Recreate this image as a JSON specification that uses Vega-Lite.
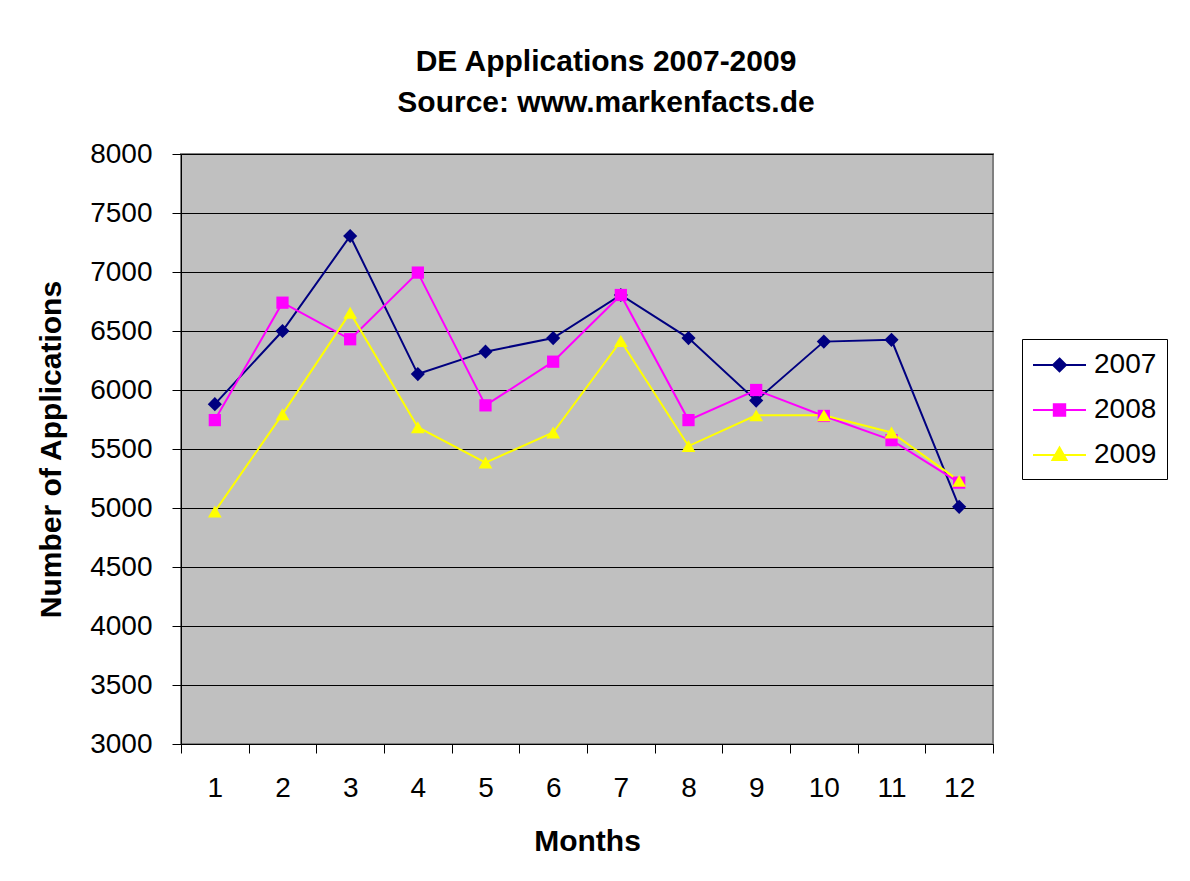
{
  "$schema": "https://vega.github.io/schema/vega-lite/v6.json",
  "autosize": "none",
  "padding": {"left": 181, "top": 154, "right": 197, "bottom": 137},
  "width": 812,
  "height": 590,
  "background": "white",
  "title": {
    "text": ["DE Applications 2007-2009", "Source: www.markenfacts.de"],
    "font": "Liberation Sans",
    "fontSize": 30,
    "fontWeight": "bold",
    "color": "black",
    "lineHeight": 41,
    "anchor": "middle",
    "frame": "group",
    "baseline": "bottom",
    "offset": -8,
    "dx": 19
  },
  "data": {
    "values": [
      {"month": 1, "year": "2007", "value": 5880},
      {"month": 2, "year": "2007", "value": 6500},
      {"month": 3, "year": "2007", "value": 7305},
      {"month": 4, "year": "2007", "value": 6135},
      {"month": 5, "year": "2007", "value": 6325},
      {"month": 6, "year": "2007", "value": 6440},
      {"month": 7, "year": "2007", "value": 6805},
      {"month": 8, "year": "2007", "value": 6440},
      {"month": 9, "year": "2007", "value": 5910},
      {"month": 10, "year": "2007", "value": 6410},
      {"month": 11, "year": "2007", "value": 6425},
      {"month": 12, "year": "2007", "value": 5010},
      {"month": 1, "year": "2008", "value": 5745},
      {"month": 2, "year": "2008", "value": 6740},
      {"month": 3, "year": "2008", "value": 6430},
      {"month": 4, "year": "2008", "value": 6995},
      {"month": 5, "year": "2008", "value": 5870},
      {"month": 6, "year": "2008", "value": 6240},
      {"month": 7, "year": "2008", "value": 6805},
      {"month": 8, "year": "2008", "value": 5745},
      {"month": 9, "year": "2008", "value": 6000},
      {"month": 10, "year": "2008", "value": 5780},
      {"month": 11, "year": "2008", "value": 5575},
      {"month": 12, "year": "2008", "value": 5215},
      {"month": 1, "year": "2009", "value": 4970},
      {"month": 2, "year": "2009", "value": 5795},
      {"month": 3, "year": "2009", "value": 6655},
      {"month": 4, "year": "2009", "value": 5685},
      {"month": 5, "year": "2009", "value": 5385},
      {"month": 6, "year": "2009", "value": 5640},
      {"month": 7, "year": "2009", "value": 6415},
      {"month": 8, "year": "2009", "value": 5525},
      {"month": 9, "year": "2009", "value": 5785},
      {"month": 10, "year": "2009", "value": 5785},
      {"month": 11, "year": "2009", "value": 5640},
      {"month": 12, "year": "2009", "value": 5230}
    ]
  },
  "encoding": {
    "x": {
      "field": "month",
      "type": "ordinal",
      "scale": {"type": "band", "paddingInner": 0, "paddingOuter": 0},
      "axis": {
        "title": "Months",
        "labelAngle": 0,
        "tickBand": "extent",
        "tickSize": 9,
        "labelPadding": 21,
        "titlePadding": 24,
        "grid": false
      }
    },
    "y": {
      "field": "value",
      "type": "quantitative",
      "scale": {"domain": [3000, 8000], "nice": false, "zero": false},
      "axis": {
        "title": "Number of Applications",
        "format": "d",
        "values": [3000, 3500, 4000, 4500, 5000, 5500, 6000, 6500, 7000, 7500, 8000],
        "tickSize": 9,
        "labelPadding": 20,
        "titlePadding": 23,
        "grid": true,
        "gridColor": "black",
        "gridWidth": 1,
        "gridOpacity": 1
      }
    }
  },
  "layer": [
    {
      "mark": {"type": "line", "strokeWidth": 2},
      "encoding": {
        "color": {
          "field": "year",
          "type": "nominal",
          "scale": {"domain": ["2007", "2008", "2009"], "range": ["#000080", "#FF00FF", "#FFFF00"]},
          "legend": null
        }
      }
    },
    {
      "transform": [{"filter": "datum.year == '2007'"}],
      "mark": {"type": "point", "filled": true, "shape": "diamond", "size": 200, "opacity": 1},
      "encoding": {
        "color": {"field": "year", "type": "nominal", "legend": null}
      }
    },
    {
      "transform": [{"filter": "datum.year == '2008'"}],
      "mark": {"type": "point", "filled": true, "shape": "square", "size": 150, "opacity": 1},
      "encoding": {
        "color": {"field": "year", "type": "nominal", "legend": null}
      }
    },
    {
      "transform": [{"filter": "datum.year == '2009'"}],
      "mark": {"type": "point", "filled": true, "shape": "triangle-up", "size": 190, "opacity": 1},
      "encoding": {
        "color": {"field": "year", "type": "nominal", "legend": null}
      }
    },
    {
      "mark": {"type": "point", "size": 0, "filled": true},
      "encoding": {
        "fill": {
          "field": "year",
          "type": "nominal",
          "scale": {"range": ["#000080", "#FF00FF", "#FFFF00"]},
          "legend": {"title": null}
        },
        "stroke": {
          "field": "year",
          "type": "nominal",
          "scale": {"range": ["#000080", "#FF00FF", "#FFFF00"]},
          "legend": {"title": null}
        },
        "shape": {
          "field": "year",
          "type": "nominal",
          "scale": {"range": ["M-1,0H2.533M0.767,-0.43L1.197,0L0.767,0.43L0.337,0Z", "M-1,0H2.533M0.387,-0.38H1.147V0.38H0.387Z", "M-1,0H2.533M0.767,-0.5L1.237,0.33H0.297Z"]},
          "legend": {
            "title": null,
            "orient": "none",
            "legendX": 841,
            "legendY": 185,
            "symbolSize": 900,
            "symbolStrokeWidth": 2,
            "symbolOpacity": 1,
            "labelOffset": 30,
            "rowPadding": 15,
            "padding": 10,
            "strokeColor": "black",
            "fillColor": "white",
            "labelFont": "Liberation Sans",
            "labelFontSize": 28,
            "labelColor": "black"
          }
        }
      }
    }
  ],
  "config": {
    "view": {"fill": "#C0C0C0", "stroke": "#808080", "strokeWidth": 2},
    "font": "Liberation Sans",
    "axis": {
      "labelFont": "Liberation Sans",
      "labelFontSize": 28,
      "labelColor": "black",
      "titleFont": "Liberation Sans",
      "titleFontSize": 30,
      "titleFontWeight": "bold",
      "titleColor": "black",
      "domainColor": "black",
      "domainWidth": 1,
      "tickColor": "black",
      "tickWidth": 1
    }
  }
}
